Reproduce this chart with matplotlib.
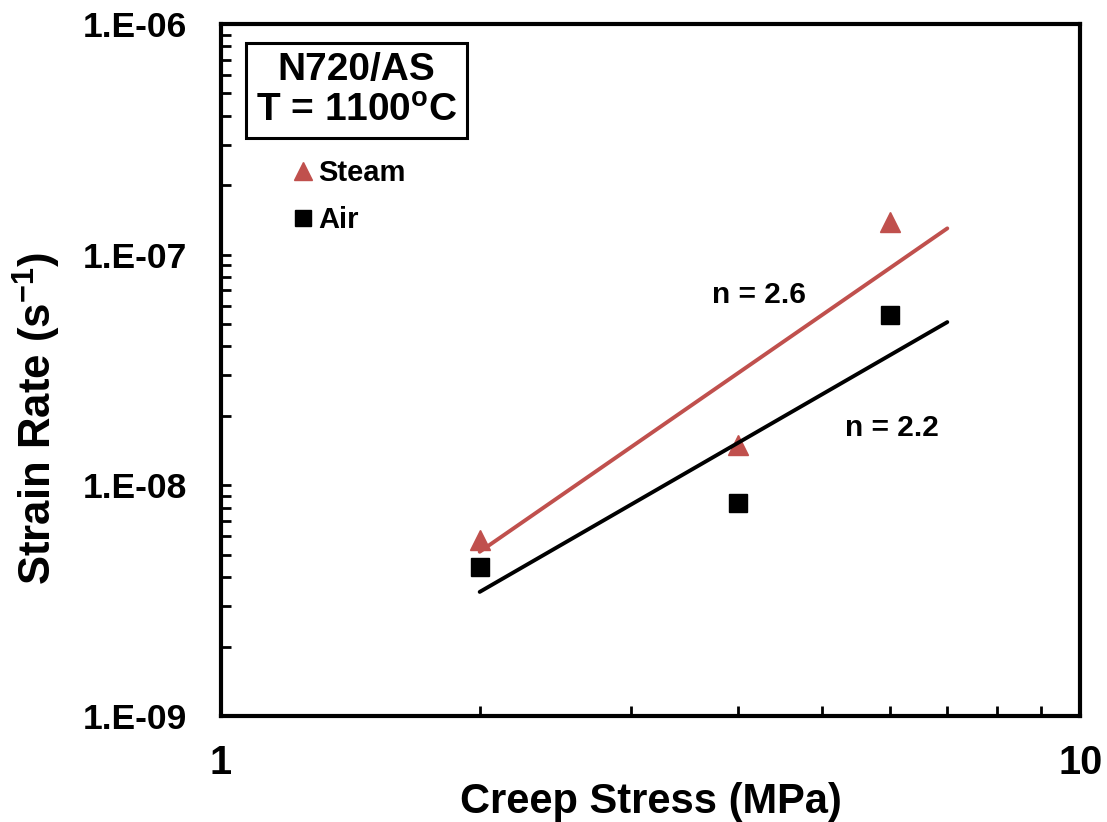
import matplotlib
matplotlib.use("Agg")
import matplotlib.pyplot as plt
from matplotlib.ticker import LogLocator, NullFormatter, FixedLocator, FixedFormatter

# ---- data ----
stress = [2, 4, 6]
steam_rate = [5.8e-9, 1.5e-8, 1.39e-7]
air_rate = [4.43e-9, 8.4e-9, 5.48e-8]

fit_x = [2, 7]
steam_fit = [5.15e-9, 1.30e-7]
air_fit = [3.45e-9, 5.1e-8]

steam_n_label = "n = 2.6"
air_n_label = "n = 2.2"
x_ticks = [1, 10]
x_tick_labels = ["1", "10"]
y_ticks = [1e-9, 1e-8, 1e-7, 1e-6]
y_tick_labels = ["1.E-09", "1.E-08", "1.E-07", "1.E-06"]

RED = "#C0504D"

plt.rcParams["font.family"] = ["Liberation Sans", "DejaVu Sans"]
plt.rcParams["font.weight"] = "bold"
plt.rcParams["mathtext.fontset"] = "custom"
plt.rcParams["mathtext.rm"] = "Liberation Sans:bold"
plt.rcParams["mathtext.bf"] = "Liberation Sans:bold"
plt.rcParams["mathtext.it"] = "Liberation Sans:bold"

fig = plt.figure(figsize=(11.07, 8.22), dpi=100)
ax = fig.add_axes([0.1996, 0.129, 0.976 - 0.1996, 0.9708 - 0.129])

ax.set_xscale("log")
ax.set_yscale("log")
ax.set_xlim(1, 10)
ax.set_ylim(1e-9, 1e-6)

ax.plot(stress, steam_rate, linestyle="none", marker="^", markersize=14.5,
        color=RED, markeredgecolor=RED, label="Steam", zorder=2)
ax.plot(stress, air_rate, linestyle="none", marker="s", markersize=13.5,
        color="black", label="Air", zorder=2)
ax.plot(fit_x, steam_fit, color=RED, linewidth=2.8, solid_capstyle="round", zorder=3)
ax.plot(fit_x, air_fit, color="black", linewidth=2.8, solid_capstyle="round", zorder=3)

ax.text(4.23, 6.68e-8, steam_n_label, fontsize=21.5, fontweight="bold",
        ha="center", va="center")
ax.text(6.03, 1.77e-8, air_n_label, fontsize=21.5, fontweight="bold",
        ha="center", va="center")

ax.text(0.1577, 0.904, "N720/AS\nT = 1100$^{\\mathrm{o}}$C", transform=ax.transAxes,
        fontsize=28, fontweight="bold", ha="center", va="center", linespacing=1.15,
        bbox=dict(boxstyle="square,pad=0.24", facecolor="white",
                  edgecolor="black", linewidth=2.2))

leg = ax.legend(loc="upper left", bbox_to_anchor=(0.072, 0.822), frameon=False,
                handlelength=0.55, handletextpad=0.25, labelspacing=0.65,
                borderaxespad=0, prop=dict(family="Liberation Sans", weight="bold", size=21),
                markerscale=0.85)

for s in ax.spines.values():
    s.set_linewidth(3)

ax.xaxis.set_major_locator(FixedLocator(x_ticks))
ax.xaxis.set_major_formatter(FixedFormatter(x_tick_labels))
ax.xaxis.set_minor_locator(LogLocator(base=10, subs=range(2, 10)))
ax.xaxis.set_minor_formatter(NullFormatter())
ax.yaxis.set_major_locator(FixedLocator(y_ticks))
ax.yaxis.set_major_formatter(FixedFormatter(y_tick_labels))
ax.yaxis.set_minor_locator(LogLocator(base=10, subs=range(2, 10)))
ax.yaxis.set_minor_formatter(NullFormatter())

ax.tick_params(which="both", direction="in", top=False, right=False,
               length=7, width=2)
ax.tick_params(axis="x", which="major", pad=20, length=0)
ax.tick_params(axis="y", which="major", pad=24.5)
for lab in ax.get_xticklabels():
    lab.set_fontsize(28.5)
    lab.set_fontweight("bold")
for lab in ax.get_yticklabels():
    lab.set_fontsize(25.5)
    lab.set_fontweight("bold")

ax.set_xlabel("Creep Stress (MPa)", fontsize=30, fontweight="bold")
ax.set_ylabel("Strain Rate (s$^{-1}$)", fontsize=31.5, fontweight="bold")
ax.xaxis.set_label_coords(0.5, -0.095)
ax.yaxis.set_label_coords(-0.184, 0.43)

fig.savefig("out.png", dpi=100)
